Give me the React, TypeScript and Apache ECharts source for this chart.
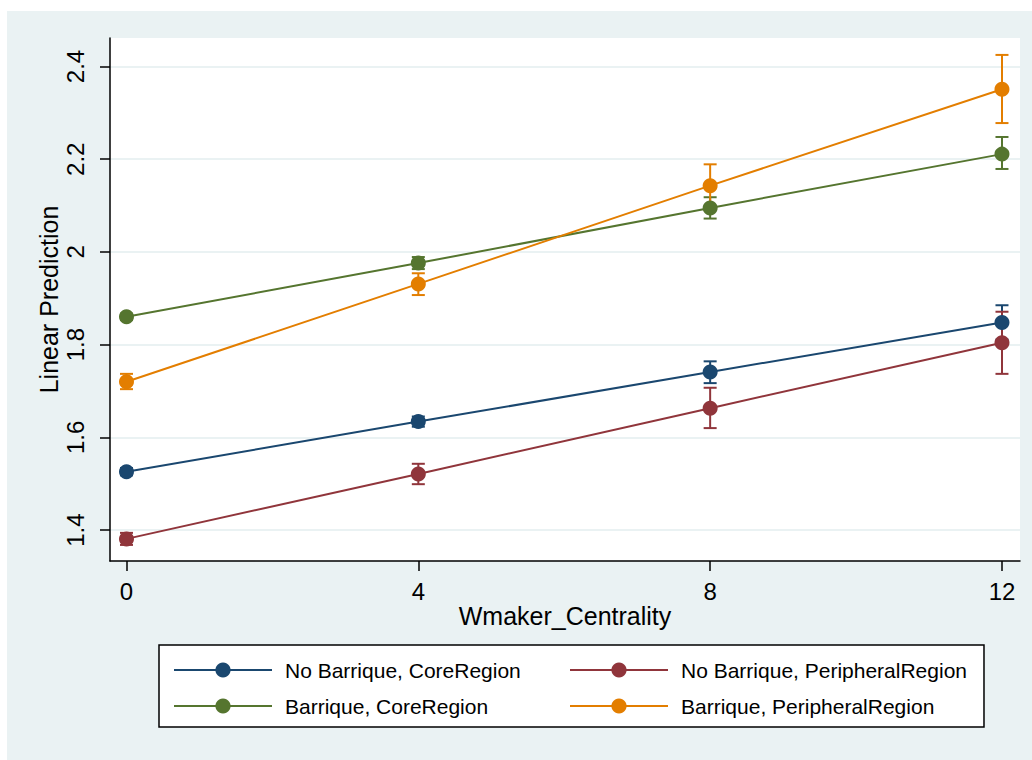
import React, { useEffect, useRef } from "react";
import * as echarts from "echarts";

const xValues = [0, 4, 8, 12];
const xTicks = [0, 4, 8, 12];
const yTicks = [1.4, 1.6, 1.8, 2.0, 2.2, 2.4];

const seriesNames = [
  "No Barrique, CoreRegion",
  "No Barrique, PeripheralRegion",
  "Barrique, CoreRegion",
  "Barrique, PeripheralRegion",
];
const seriesColors = ["#1a476f", "#90353b", "#55752f", "#e37e00"];

const noBarriqueCore = [1.526, 1.634, 1.741, 1.848];
const noBarriqueCoreLo = [1.518, 1.623, 1.717, 1.811];
const noBarriqueCoreHi = [1.534, 1.645, 1.764, 1.885];

const noBarriquePeri = [1.381, 1.521, 1.663, 1.804];
const noBarriquePeriLo = [1.368, 1.499, 1.62, 1.737];
const noBarriquePeriHi = [1.394, 1.543, 1.707, 1.871];

const barriqueCore = [1.86, 1.976, 2.095, 2.211];
const barriqueCoreLo = [1.853, 1.963, 2.072, 2.179];
const barriqueCoreHi = [1.867, 1.989, 2.118, 2.248];

const barriquePeri = [1.72, 1.931, 2.143, 2.351];
const barriquePeriLo = [1.704, 1.907, 2.097, 2.278];
const barriquePeriHi = [1.737, 1.954, 2.189, 2.425];

const means = [noBarriqueCore, noBarriquePeri, barriqueCore, barriquePeri];
const los = [noBarriqueCoreLo, noBarriquePeriLo, barriqueCoreLo, barriquePeriLo];
const his = [noBarriqueCoreHi, noBarriquePeriHi, barriqueCoreHi, barriquePeriHi];

const FONT = "'Liberation Sans', Arial, sans-serif";

export default function App() {
  const ref = useRef<HTMLDivElement>(null);
  useEffect(() => {
    if (!ref.current) return;
    const chart = echarts.init(ref.current, undefined, { renderer: "svg" });

    const errSeries = means.map((_, si) => ({
      type: "custom",
      name: "ci" + si,
      z: 3,
      data: xValues.map((x, i) => [x, los[si][i], his[si][i]]),
      encode: { x: 0, y: [1, 2] },
      renderItem: (params: any, api: any) => {
        const x = api.value(0);
        const pLo = api.coord([x, api.value(1)]);
        const pHi = api.coord([x, api.value(2)]);
        const hw = 6.5;
        const style = { stroke: seriesColors[si], lineWidth: 2 };
        return {
          type: "group",
          children: [
            { type: "line", shape: { x1: pLo[0], y1: pLo[1], x2: pHi[0], y2: pHi[1] }, style },
            { type: "line", shape: { x1: pLo[0] - hw, y1: pLo[1], x2: pLo[0] + hw, y2: pLo[1] }, style },
            { type: "line", shape: { x1: pHi[0] - hw, y1: pHi[1], x2: pHi[0] + hw, y2: pHi[1] }, style },
          ],
        };
      },
    }));

    const lineSeries = means.map((vals, si) => ({
      type: "line",
      name: seriesNames[si],
      z: 4,
      data: xValues.map((x, i) => [x, vals[i]]),
      symbol: "circle",
      symbolSize: 15,
      lineStyle: { color: seriesColors[si], width: 2 },
      itemStyle: { color: seriesColors[si] },
      emphasis: { disabled: true },
    }));

    chart.setOption({
      animation: false,
      textStyle: { fontFamily: FONT },
      graphic: [
        {
          type: "rect",
          z: -100,
          shape: { x: 7, y: 11, width: 1025, height: 749 },
          style: { fill: "#EAF2F3" },
          silent: true,
        },
      ],
      grid: {
        left: 110,
        top: 38,
        right: 12,
        bottom: 199,
        show: true,
        backgroundColor: "#ffffff",
        borderWidth: 0,
      },
      xAxis: {
        type: "value",
        min: -0.226,
        max: 12.247,
        name: "Wmaker_Centrality",
        nameLocation: "middle",
        nameGap: 42,
        nameMoveOverlap: false,
        nameTextStyle: { fontSize: 25, color: "#000", fontFamily: FONT },
        axisLine: { show: true, onZero: false, lineStyle: { color: "#000", width: 1.5 } },
        axisTick: { show: true, length: 10, customValues: xTicks, lineStyle: { color: "#000", width: 1.5 } },
        axisLabel: { customValues: xTicks, fontSize: 24, color: "#000", margin: 18, fontFamily: FONT },
        splitLine: { show: false },
      },
      yAxis: {
        type: "value",
        min: 1.3333,
        max: 2.4615,
        name: "Linear Prediction",
        nameLocation: "middle",
        nameGap: 49,
        nameMoveOverlap: false,
        nameRotate: 90,
        nameTextStyle: { fontSize: 25, color: "#000", fontFamily: FONT },
        axisLine: { show: true, onZero: false, lineStyle: { color: "#000", width: 1.5 } },
        axisTick: { show: true, length: 10, customValues: yTicks, lineStyle: { color: "#000", width: 1.5 } },
        axisLabel: {
          customValues: yTicks,
          rotate: 90,
          fontSize: 24,
          color: "#000",
          margin: 23,
          fontFamily: FONT,
          formatter: (v: number) => String(Math.round(v * 10) / 10),
        },
        splitLine: { show: true, lineStyle: { color: "#EAF2F3", width: 2 } },
      },
      legend: {
        data: seriesNames,
        left: 159,
        top: 645,
        width: 830,
        orient: "horizontal",
        itemWidth: 98,
        itemHeight: 19,
        itemGap: 12,
        padding: [13, 17, 9, 14],
        backgroundColor: "#ffffff",
        borderColor: "#000",
        borderWidth: 1.5,
        borderRadius: 0,
        selectedMode: false,
        formatter: (name: string) => "{a|" + name + "}",
        textStyle: {
          fontSize: 21,
          color: "#000",
          fontFamily: FONT,
          lineHeight: 24,
          rich: {
            a: {
              width: 272,
              fontSize: 21,
              lineHeight: 24,
              color: "#000",
              fontFamily: FONT,
              padding: [0, 0, 0, 8],
            },
          },
        },
      },
      series: [...errSeries, ...lineSeries],
    });

    return () => chart.dispose();
  }, []);

  return (
    <div
      ref={ref}
      style={{ position: "absolute", left: 0, top: 0, width: 1032, height: 760 }}
    />
  );
}
